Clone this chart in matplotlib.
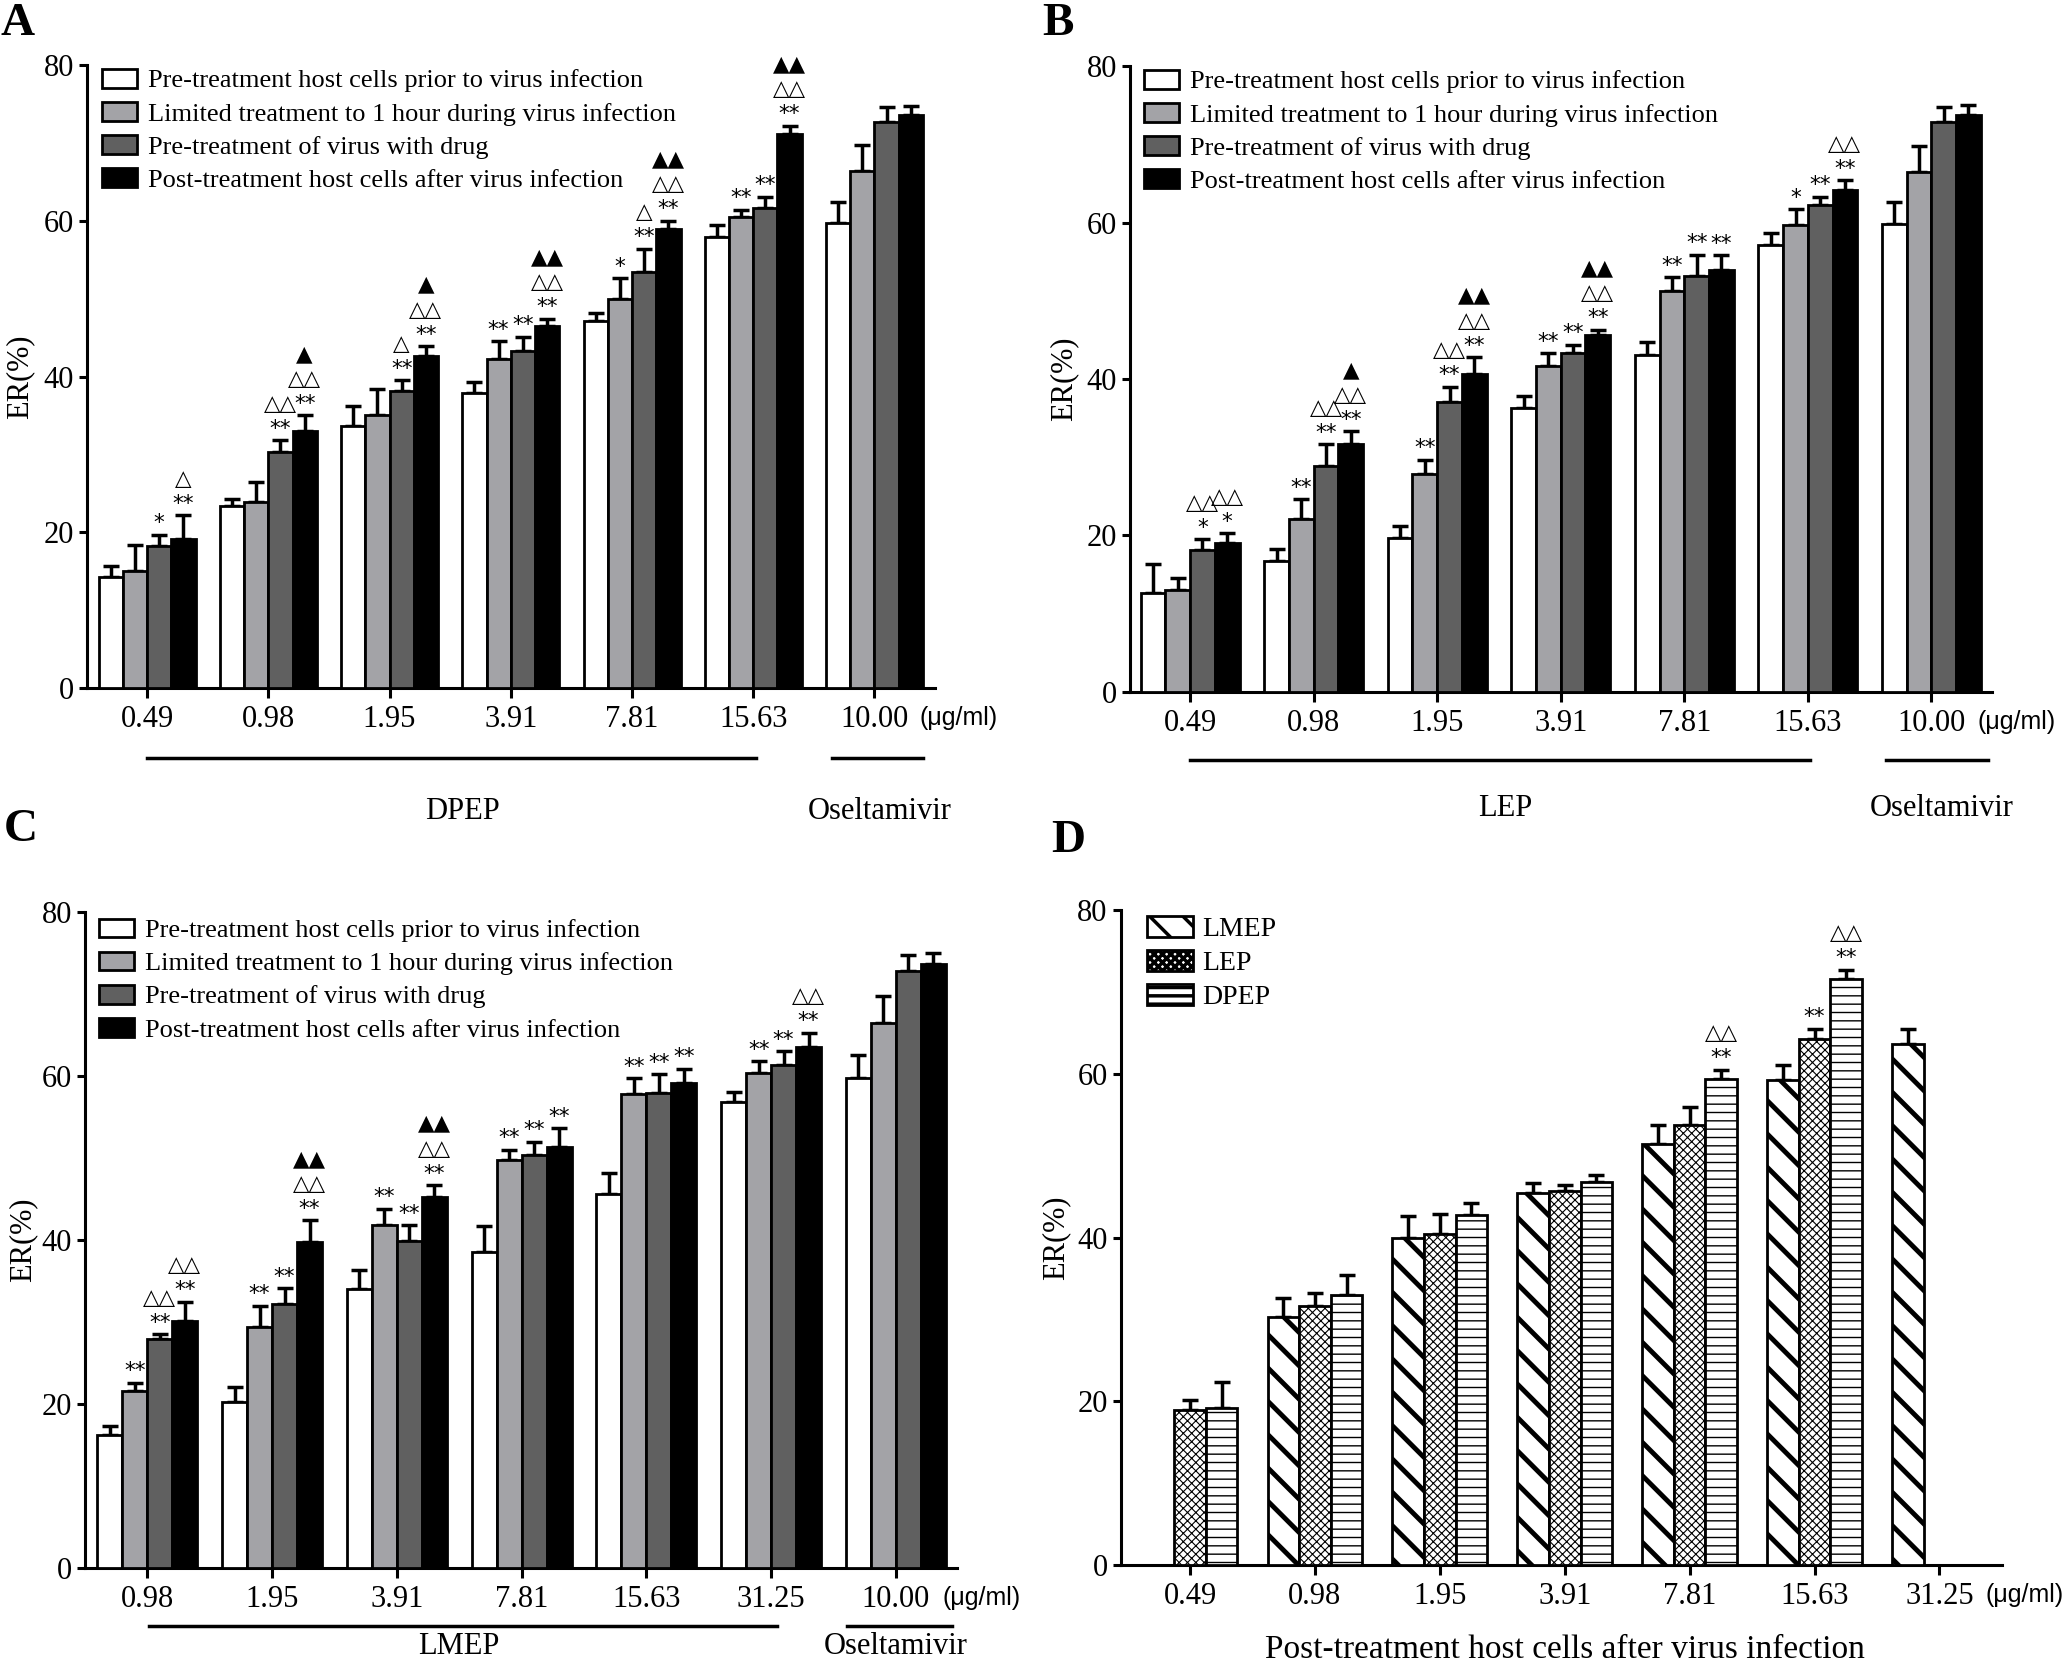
import numpy as np
import matplotlib.pyplot as plt

plt.rcParams['font.family'] = ['Liberation Serif', 'DejaVu Sans']
plt.rcParams['axes.linewidth'] = 2.2
plt.rcParams['hatch.linewidth'] = 2.5

# ---- data ----
treatments = ['Pre-treatment host cells prior to virus infection',
              'Limited treatment to 1 hour during virus infection',
              'Pre-treatment of virus with drug',
              'Post-treatment host cells after virus infection']
extracts = ['LMEP', 'LEP', 'DPEP']

doses_a = ['0.49', '0.98', '1.95', '3.91', '7.81', '15.63', '10.00']
mean_a = [[14.2, 23.4, 33.7, 37.9, 47.1, 57.9, 59.7],
          [15.0, 23.9, 35.0, 42.3, 50.0, 60.5, 66.4],
          [18.2, 30.3, 38.1, 43.3, 53.4, 61.7, 72.7],
          [19.1, 33.0, 42.6, 46.5, 59.0, 71.2, 73.6]]
err_a = [[1.5, 0.9, 2.5, 1.4, 1.0, 1.5, 2.7],
         [3.3, 2.5, 3.4, 2.2, 2.6, 0.9, 3.3],
         [1.5, 1.5, 1.4, 1.8, 3.0, 1.4, 1.9],
         [3.1, 2.0, 1.3, 0.9, 1.0, 1.0, 1.2]]
marks_a = [(0, 2, ['*']), (0, 3, ['**', '△']),
           (1, 2, ['**', '△△']), (1, 3, ['**', '△△', '▲']),
           (2, 2, ['**', '△']), (2, 3, ['**', '△△', '▲']),
           (3, 1, ['**']), (3, 2, ['**']), (3, 3, ['**', '△△', '▲▲']),
           (4, 1, ['*']), (4, 2, ['**', '△']), (4, 3, ['**', '△△', '▲▲']),
           (5, 1, ['**']), (5, 2, ['**']), (5, 3, ['**', '△△', '▲▲'])]

doses_b = ['0.49', '0.98', '1.95', '3.91', '7.81', '15.63', '10.00']
mean_b = [[12.7, 16.7, 19.7, 36.3, 43.1, 57.1, 59.8],
          [13.0, 22.1, 27.9, 41.6, 51.3, 59.7, 66.5],
          [18.2, 28.9, 37.0, 43.3, 53.1, 62.2, 72.8],
          [19.0, 31.7, 40.6, 45.6, 53.9, 64.2, 73.7]]
err_b = [[3.6, 1.6, 1.5, 1.5, 1.6, 1.5, 2.8],
         [1.6, 2.5, 1.8, 1.7, 1.7, 2.0, 3.3],
         [1.3, 2.8, 2.0, 1.1, 2.8, 1.1, 1.9],
         [1.3, 1.6, 2.2, 0.7, 1.9, 1.2, 1.3]]
marks_b = [(0, 2, ['*', '△△']), (0, 3, ['*', '△△']),
           (1, 1, ['**']), (1, 2, ['**', '△△']), (1, 3, ['**', '△△', '▲']),
           (2, 1, ['**']), (2, 2, ['**', '△△']), (2, 3, ['**', '△△', '▲▲']),
           (3, 1, ['**']), (3, 2, ['**']), (3, 3, ['**', '△△', '▲▲']),
           (4, 1, ['**']), (4, 2, ['**']), (4, 3, ['**']),
           (5, 1, ['*']), (5, 2, ['**']), (5, 3, ['**', '△△'])]

doses_c = ['0.98', '1.95', '3.91', '7.81', '15.63', '31.25', '10.00']
mean_c = [[16.2, 20.2, 34.0, 38.5, 45.6, 56.8, 59.8],
          [21.6, 29.4, 41.8, 49.8, 57.8, 60.4, 66.5],
          [27.9, 32.2, 39.9, 50.4, 57.9, 61.4, 72.8],
          [30.1, 39.7, 45.3, 51.3, 59.2, 63.5, 73.7]]
err_c = [[1.1, 1.9, 2.4, 3.2, 2.6, 1.3, 2.8],
         [1.0, 2.6, 2.0, 1.2, 1.9, 1.4, 3.2],
         [0.6, 1.9, 1.9, 1.6, 2.3, 1.6, 2.0],
         [2.4, 2.7, 1.4, 2.3, 1.7, 1.8, 1.3]]
marks_c = [(0, 1, ['**']), (0, 2, ['**', '△△']), (0, 3, ['**', '△△']),
           (1, 1, ['**']), (1, 2, ['**']), (1, 3, ['**', '△△', '▲▲']),
           (2, 1, ['**']), (2, 2, ['**']), (2, 3, ['**', '△△', '▲▲']),
           (3, 1, ['**']), (3, 2, ['**']), (3, 3, ['**']),
           (4, 1, ['**']), (4, 2, ['**']), (4, 3, ['**']),
           (5, 1, ['**']), (5, 2, ['**']), (5, 3, ['**', '△△'])]

doses_d = ['0.49', '0.98', '1.95', '3.91', '7.81', '15.63', '31.25']
mean_d = [[np.nan, 30.3, 39.9, 45.4, 51.4, 59.2, 63.6],
          [18.9, 31.6, 40.4, 45.7, 53.8, 64.2, np.nan],
          [19.2, 33.0, 42.8, 46.8, 59.3, 71.6, np.nan]]
err_d = [[np.nan, 2.3, 2.7, 1.3, 2.3, 1.9, 1.9],
         [1.3, 1.6, 2.5, 0.7, 2.1, 1.3, np.nan],
         [3.2, 2.4, 1.4, 0.8, 1.2, 1.1, np.nan]]
marks_d = [(4, 2, ['**', '△△']), (5, 1, ['**']), (5, 2, ['**', '△△'])]

fills = ['white', '#a3a3a7', '#606060', 'black']


def panel(ax, doses, means, errs, marks, width, faces, hatches=None, hatch_lw=None,
          labels=None, ylab_x=-0.06):
    x = np.arange(len(doses))
    k = len(means)
    for i in range(k):
        pos = x + (i - (k - 1) / 2) * width
        m = np.array(means[i], float)
        e = np.array(errs[i], float)
        ok = ~np.isnan(m)
        h = hatches[i] if hatches else None
        rects = ax.bar(pos[ok], m[ok], width, color=faces[i], edgecolor='k',
                       linewidth=2, hatch=h, label=labels[i], zorder=3)
        if hatch_lw and hasattr(rects[0], 'set_hatch_linewidth'):
            for r in rects:
                r.set_hatch_linewidth(hatch_lw[i])
        ax.errorbar(pos[ok], m[ok], yerr=[np.zeros(ok.sum()), e[ok]], fmt='none',
                    ecolor='k', elinewidth=2.5, capsize=5.5, capthick=2.5, zorder=2)
    for g, b, lines in marks:
        xp = g + (b - (k - 1) / 2) * width
        top = means[b][g] + errs[b][g]
        for j, s in enumerate(lines):
            ax.annotate(s, (xp, top), xytext=(0, 1 + 18 * j), textcoords='offset points',
                        ha='center', va='bottom', fontsize=15.5, family='DejaVu Sans')
    ax.set_ylim(0, 80)
    ax.set_yticks([0, 20, 40, 60, 80])
    ax.set_xticks(x)
    ax.set_xticklabels(doses)
    ax.spines['top'].set_visible(False)
    ax.spines['right'].set_visible(False)
    ax.tick_params(axis='x', direction='out', length=7, width=2.2, labelsize=22, pad=5)
    ax.tick_params(axis='y', direction='out', length=6, width=2.2, labelsize=22, pad=3.5)
    ax.set_ylabel('ER(%)', fontsize=22)
    ax.yaxis.set_label_coords(ylab_x, 0.5)
    ax.annotate('(μg/ml)', (len(doses) - 1 + 0.37, 0), xycoords=ax.get_xaxis_transform(),
                xytext=(0, -13), textcoords='offset points', ha='left', va='top',
                fontsize=18, family='Liberation Sans')


def underline(ax, x0, x1, y, text, tx, ty, va='center'):
    tr = ax.get_xaxis_transform()
    ax.plot([x0, x1], [y, y], color='k', lw=2.5, transform=tr, clip_on=False)
    ax.text(tx, ty, text, transform=tr, ha='center', va=va, fontsize=22)


legend_kw = dict(loc='upper left', frameon=False, fontsize=19, handlelength=1.33,
                 handleheight=0.72, handletextpad=0.42, labelspacing=0.36,
                 borderpad=0, borderaxespad=0)

fig = plt.figure(figsize=(20.67, 16.63), dpi=100)

ax_a = fig.add_axes([0.0421, 0.5863, 0.4103, 0.3746])
panel(ax_a, doses_a, mean_a, err_a, marks_a, 0.2, fills, labels=treatments, ylab_x=-0.062)
ax_a.set_xlim(-0.495, 6.5)
ax_a.legend(bbox_to_anchor=(0.018, 0.994), **legend_kw)
underline(ax_a, 0, 5.02, -0.113, 'DPEP', 2.6, -0.198)
underline(ax_a, 5.65, 6.40, -0.113, 'Oseltamivir', 6.04, -0.198)

ax_b = fig.add_axes([0.5467, 0.5839, 0.4170, 0.3764])
panel(ax_b, doses_b, mean_b, err_b, marks_b, 0.2, fills, labels=treatments, ylab_x=-0.06)
ax_b.set_xlim(-0.486, 6.49)
ax_b.legend(bbox_to_anchor=(0.016, 0.994), **legend_kw)
underline(ax_b, 0, 5.02, -0.108, 'LEP', 2.55, -0.186)
underline(ax_b, 5.63, 6.46, -0.108, 'Oseltamivir', 6.08, -0.186)

ax_c = fig.add_axes([0.0411, 0.0571, 0.4219, 0.3945])
panel(ax_c, doses_c, mean_c, err_c, marks_c, 0.2, fills, labels=treatments, ylab_x=-0.055)
ax_c.set_xlim(-0.50, 6.49)
ax_c.legend(bbox_to_anchor=(0.016, 0.99), **legend_kw)
underline(ax_c, 0.01, 5.05, -0.089, 'LMEP', 2.5, -0.098, va='top')
underline(ax_c, 5.61, 6.45, -0.089, 'Oseltamivir', 6.0, -0.098, va='top')

ax_d = fig.add_axes([0.5423, 0.0589, 0.4262, 0.3939])
panel(ax_d, doses_d, mean_d, err_d, marks_d, 0.253, ['white'] * 3,
      hatches=['\\', 'xxxx', '--'], hatch_lw=[3.5, 0.8, 1.0], labels=extracts, ylab_x=-0.057)
ax_d.set_xlim(-0.553, 6.5)
ax_d.legend(bbox_to_anchor=(0.03, 0.991), loc='upper left', frameon=False, fontsize=20,
            handlelength=1.65, handleheight=0.8, handletextpad=0.33, labelspacing=0.28,
            borderpad=0, borderaxespad=0)
ax_d.text(3, -0.13, 'Post-treatment host cells after virus infection', fontsize=24,
          transform=ax_d.get_xaxis_transform(), ha='center', va='center')

for lab, (px, py) in zip('ABCD', [(18, 24), (1058, 24), (21, 830), (1068, 841)]):
    fig.text(px / 2067, 1 - py / 1663, lab, fontsize=34, fontweight='bold',
             ha='center', va='center')

fig.savefig('out.png', dpi=100)
